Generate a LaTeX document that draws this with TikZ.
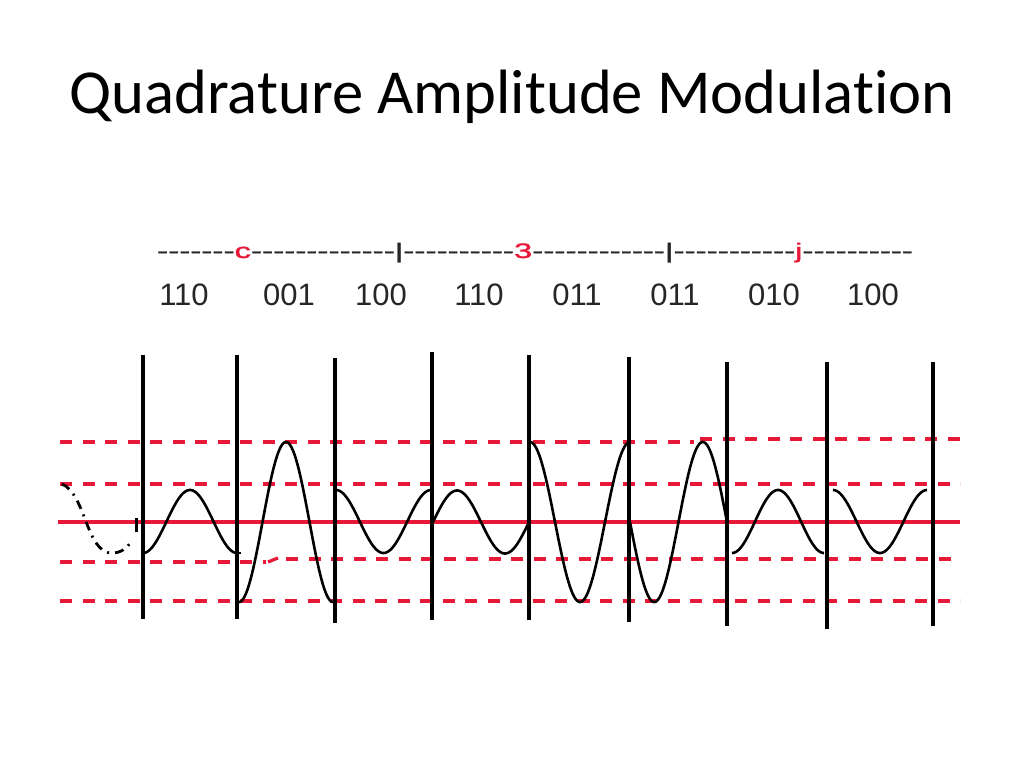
\documentclass[tikz,border=0pt]{standalone}
\usepackage{fontspec}
\setmainfont{Carlito}[Ligatures=NoCommon]
\newfontfamily\arialf{Liberation Sans}
\newfontfamily\arialh{Liberation Sans}[FakeBold=1.2]
\definecolor{qred}{RGB}{232,24,56}
\newcommand\Dsh[1]{\foreach \k in {1,...,#1}{-\kern0pt}}
\begin{document}
\begin{tikzpicture}[x=1pt,y=-1pt,
  title/.style={font=\fontsize{62.6}{70}\selectfont, inner sep=0pt, anchor=base},
  bits/.style={font=\arialf\fontsize{31}{34}\selectfont, text=black!85, inner sep=0pt, anchor=base},
  hdr/.style={font=\arialh\fontsize{21}{24}\selectfont, text=black!85, inner sep=0pt, anchor=base west},
  level/.style={draw=qred, line width=4pt, dash pattern=on 12pt off 10.5pt},
  thinlevel/.style={draw=qred, line width=3.2pt, dash pattern=on 12pt off 10.5pt},
  axis/.style={draw=qred, line width=3.6pt},
  bar/.style={draw=black, line width=4pt},
  wave/.style={draw=black, line width=2.6pt, line join=round}]
\useasboundingbox (0,0) rectangle (1024,768);

% title
\node[title] (t) at (512,113) {Quadrature Amplitude Modulation};

% header row
\node[hdr] (h) at (157,258) {\scalebox{1.58}[1]{\Dsh{7}\textcolor{qred}{c}\Dsh{13}|\Dsh{10}\textcolor{qred}{3}\Dsh{12}|\Dsh{11}\textcolor{qred}{j}\Dsh{10}}};

% bit groups
\node[bits] (b1) at (184,305) {110};
\node[bits] (b2) at (289,305) {001};
\node[bits] (b3) at (381,305) {100};
\node[bits] (b4) at (479,305) {110};
\node[bits] (b5) at (577,305) {011};
\node[bits] (b6) at (675,305) {011};
\node[bits] (b7) at (774,305) {010};
\node[bits] (b8) at (873,305) {100};

% amplitude levels
\draw[thinlevel] (60,442) -- (694,442);
\draw[level] (700,439) -- (960,439);
\draw[level] (60,484) -- (960,484);
\draw[axis] (58,522) -- (960,522);
\draw[thinlevel] (60,562) -- (266,562);
\draw[thinlevel] (268,562) -- (278,558);
\draw[thinlevel] (286,559) -- (960,559);
\draw[thinlevel] (60,601) -- (960,601);

% symbol boundaries
\foreach \xx/\ya/\yb in {143/355/619, 237/355/619, 335/358/623, 432/352/620, 529/355/620, 629/357/622, 727/362/626, 827/362/629, 933/362/626}
  \draw[bar] (\xx,\ya) -- (\xx,\yb);

% preceding dashed wave
\draw[draw=black, line width=2.8pt, dash pattern=on 9pt off 6pt on 2pt off 6pt]
  (62,484) .. controls (86,494) and (86,553) .. (112,553) .. controls (121,553) and (127,548) .. (131,542);
\draw[draw=black, line width=3pt] (136,518) -- (136,532);

% waveform
\draw[wave] plot[domain=143:237, samples=90] (\x, {521.5+31.5*cos((\x-143)/94*360)});
\draw[wave] (237,553) -- (241,553);
\draw[wave] plot[domain=239:333, samples=120] (\x, {522+80*cos((\x-239)/94*360)});
\draw[wave] plot[domain=336:431, samples=90] (\x, {521.5-31.5*cos((\x-336)/95*360)});
\draw[wave] plot[domain=433:529, samples=90] (\x, {522-31.5*sin((\x-433)/96*360)});
\draw[wave] plot[domain=530:630, samples=120] (\x, {522-80*cos((\x-530)/100*360)});
\draw[wave] plot[domain=630:727, samples=120] (\x, {522+80*sin((\x-630)/97*360)});
\draw[wave] plot[domain=732:824, samples=90] (\x, {521.5+31.5*cos((\x-732)/92*360)});
\draw[wave] plot[domain=833:927, samples=90] (\x, {521.5-31.5*cos((\x-833)/94*360)});
\end{tikzpicture}
\end{document}
